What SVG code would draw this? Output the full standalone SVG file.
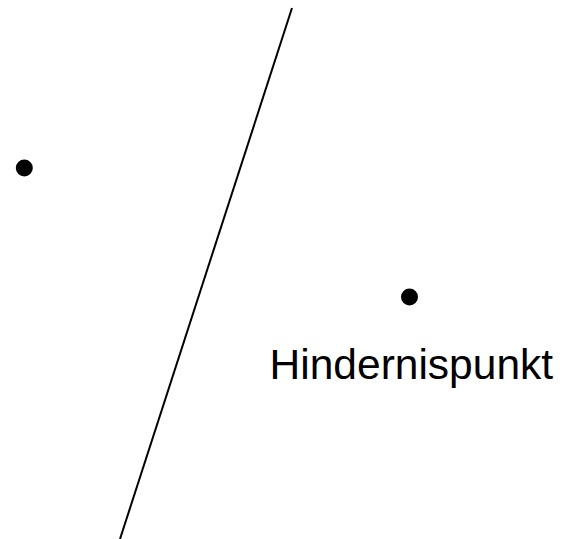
<svg xmlns="http://www.w3.org/2000/svg" width="562" height="539" viewBox="0 0 562 539">
<style>
.pt{fill:#000}
.ln{stroke:#000;stroke-width:2;fill:none}
.lbl{font-family:"Liberation Sans",Arial,sans-serif;font-size:42.5px;fill:#000}
</style>
<rect width="562" height="539" fill="#fff"/>
<g id="connectors">
<line class="ln" x1="292" y1="8" x2="120" y2="539"/>
</g>
<g id="point1"><circle class="pt" cx="24.3" cy="168" r="8.5"/></g>
<g id="point2"><circle class="pt" cx="409.5" cy="297" r="8.5"/></g>
<g id="label"><text class="lbl" x="269.6" y="378.7">Hindernispunkt</text></g>
</svg>
